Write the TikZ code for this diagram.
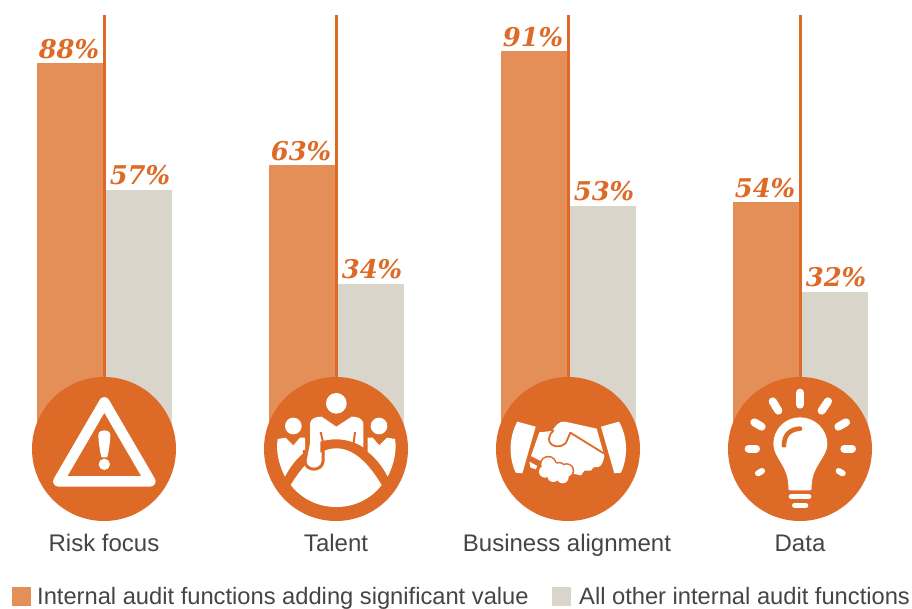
\documentclass[tikz,border=0pt]{standalone}
\usepackage{fontspec}
\setmainfont{Liberation Sans}
\newfontfamily\pctfont{DejaVu Serif}
\definecolor{barorange}{HTML}{E58F58}
\definecolor{deeporange}{HTML}{DD6B27}
\definecolor{bargrey}{HTML}{DAD5CB}
\definecolor{labelgrey}{HTML}{454545}
\tikzset{
  pct/.style={anchor=base,inner sep=0pt,text=deeporange,font=\pctfont\bfseries\itshape\fontsize{25.8}{26}\selectfont},
  cat/.style={anchor=base,inner sep=0pt,text=labelgrey,font=\fontsize{24}{26}\selectfont},
  legendtext/.style={anchor=base west,inner sep=0pt,text=labelgrey,font=\fontsize{23.7}{26}\selectfont},
  icon/.style={x=0.33333pt,y=-0.33333pt},
  ray/.style={draw=white,line width=8pt,line cap=round},
}
\newcommand{\bargroup}[6]{% centre x, orange top, grey top, pct a, pct b, id
  \fill[barorange] (#1-67,#2) rectangle (#1,449);
  \fill[bargrey] (#1+1,#3) rectangle (#1+68,449);
  \draw[deeporange,line width=3pt] (#1,15) -- (#1,449);
  \node[pct] (a#6) at (#1-35,#2-5) {#4\%};
  \node[pct] (b#6) at (#1+36,#3-6) {#5\%};
  \fill[deeporange] (#1,449) circle (72);
}
\begin{document}
\begin{tikzpicture}[x=1pt,y=-1pt]
\useasboundingbox (0,0) rectangle (912,608);
\fill[white] (0,0) rectangle (912,608);
\bargroup{104}{63}{190}{88}{57}{1}
\bargroup{336}{165}{284}{63}{34}{2}
\bargroup{568}{51}{206}{91}{53}{3}
\bargroup{800}{202}{292}{54}{32}{4}

% warning icon
\begin{scope}[shift={(20,370)},icon]
  \draw[white,line width=10.5pt,line join=round] (115,334) -- (253,97) -- (391,334) -- cycle;
  \fill[white] (235,195) .. controls (235,176) and (271,176) .. (271,195)
    .. controls (271,212) and (265,255) .. (261,262) -- (245,262) .. controls (241,255) and (235,212) .. (235,195) -- cycle;
  \fill[white] (253,283) circle (17);
\end{scope}

% talent icon
\begin{scope}[shift={(255,370)},icon]
  \fill[white] (244,100) circle (31);
  \fill[white] (115,168) circle (25);
  \fill[white] (372,168) circle (25);
  \fill[white] (68,207) -- (92,203) -- (115,226) -- (135,203) -- (150,203) -- (150,245)
    .. controls (125,265) and (105,290) .. (90,320) .. controls (72,285) and (62,245) .. (68,207) -- cycle;
  \fill[white] (420,207) -- (396,203) -- (373,226) -- (353,203) -- (338,203) -- (338,245)
    .. controls (363,265) and (383,290) .. (398,320) .. controls (416,285) and (426,245) .. (420,207) -- cycle;
  \fill[white] (107,345) .. controls (150,275) and (195,235) .. (244,235)
    .. controls (293,235) and (338,275) .. (380,345)
    .. controls (345,390) and (295,411) .. (244,411)
    .. controls (193,411) and (143,390) .. (107,345) -- cycle;
  \draw[deeporange,line width=3pt] (148,240) -- (150,275) .. controls (153,305) and (200,305) .. (204,275) -- (204,240);
  \fill[white] (165,160) .. controls (168,146) and (180,140) .. (200,140) -- (244,170) -- (290,140)
    .. controls (310,140) and (322,146) .. (325,160) -- (325,232)
    .. controls (300,215) and (270,208) .. (244,208) .. controls (228,208) and (210,210) .. (196,215)
    -- (196,272) .. controls (196,297) and (155,297) .. (155,272) -- (165,220) -- cycle;
  \draw[deeporange,line width=2pt] (197,186) -- (204,216);
  \draw[deeporange,line width=2pt] (300,186) -- (296,218);
\end{scope}

% handshake icon
\begin{scope}[shift={(485,370)},icon]
  \fill[white] (97,155) -- (152,170) -- (112,310) -- (92,308) .. controls (70,260) and (72,200) .. (97,155) -- cycle;
  \fill[white] (402,155) -- (348,170) -- (388,310) -- (408,308) .. controls (430,260) and (428,200) .. (402,155) -- cycle;
  \fill[white] (163,187) -- (200,183) .. controls (212,170) and (220,152) .. (240,155) -- (335,176) -- (358,258)
    .. controls (355,275) and (350,288) .. (340,291) -- (325,292) -- (318,302) -- (298,302) -- (288,316) -- (268,312) -- (240,300)
    -- (190,262) -- (165,272) -- (138,258) -- cycle;
  \draw[deeporange,line width=1.8pt,line join=round] (356,250) -- (256,188) -- (243,218)
    .. controls (228,236) and (190,232) .. (192,205) .. controls (192,195) and (200,188) .. (206,180);
  \fill[white] (133,275) -- (157,288) -- (152,298) -- (136,292) -- cycle;
  \foreach \px/\py/\pr in {190/283/21,180/305/18,205/318/18,233/322/18,245/302/18,222/298/18}
    \draw[deeporange,line width=3pt] (\px,\py) circle (\pr);
  \foreach \px/\py/\pr in {190/283/21,180/305/18,205/318/18,233/322/18,245/302/18,222/298/18,205/298/20}
    \fill[white] (\px,\py) circle (\pr);
\end{scope}

% bulb icon
\begin{scope}[shift={(720,370)},icon]
  \draw[ray] (240,68) -- (240,104);
  \draw[ray] (158,94) -- (175,122);
  \draw[ray] (324,94) -- (305,122);
  \draw[ray] (103,157) -- (125,170);
  \draw[ray] (378,157) -- (355,170);
  \draw[ray] (86,236) -- (108,236);
  \draw[ray] (373,236) -- (396,236);
  \draw[ray,line width=6pt] (114,310) -- (126,303);
  \draw[ray,line width=6pt] (356,303) -- (368,310);
  \fill[white] (240,142) .. controls (285,142) and (322,178) .. (322,222)
    .. controls (322,262) and (278,285) .. (275,345) -- (275,355) .. controls (275,358) and (273,361) .. (270,361)
    -- (210,361) .. controls (207,361) and (205,358) .. (205,355) -- (205,345)
    .. controls (202,285) and (160,262) .. (160,222) .. controls (160,178) and (195,142) .. (240,142) -- cycle;
  \draw[deeporange,line width=4.6pt,line cap=round] (192,226) .. controls (192,195) and (210,177) .. (240,176);
  \draw[white,line width=5.3pt,line cap=round] (214,380) -- (266,380);
  \draw[white,line width=5.3pt,line cap=round] (224,406) -- (257,406);
\end{scope}

\node[cat] (c1) at (104,551) {Risk focus};
\node[cat] (c2) at (336,551) {Talent};
\node[cat] (c3) at (567,551) {Business alignment};
\node[cat] (c4) at (800,551) {Data};

\fill[barorange] (12,587) rectangle (31,606);
\fill[bargrey] (552,587) rectangle (571,606);
\node[legendtext] (l1) at (37,604) {Internal audit functions adding significant value};
\node[legendtext] (l2) at (579,604) {All other internal audit functions};
\end{tikzpicture}
\end{document}
